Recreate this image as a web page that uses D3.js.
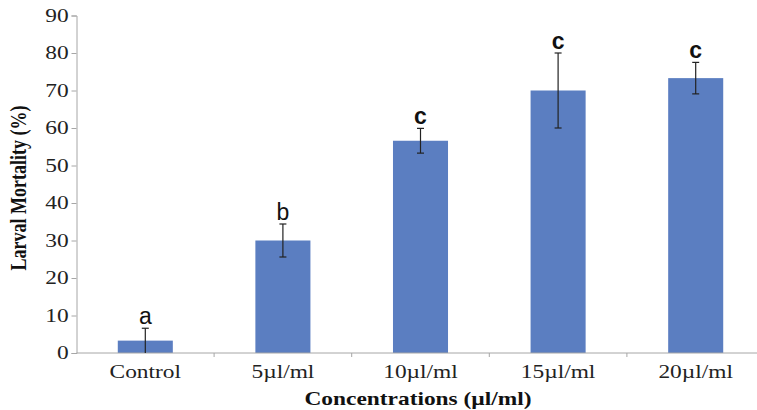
<!DOCTYPE html>
<html>
<head>
<meta charset="utf-8">
<script src="https://cdn.jsdelivr.net/npm/d3@7"></script>
<style>
  body { margin: 0; background: #fff; }
  svg { display: block; }
</style>
</head>
<body>
<svg id="chart" width="757" height="410"></svg>
<script>
// Chart data
const categories = ['Control', '5\u00b5l/ml', '10\u00b5l/ml', '15\u00b5l/ml', '20\u00b5l/ml'];
const mortality = [3.3, 30, 56.6, 70, 73.3];
const errors = [3.3, 4.4, 3.3, 10, 4.2];
const letters = ['a', 'b', 'c', 'c', 'c'];
const yTicks = [0, 10, 20, 30, 40, 50, 60, 70, 80, 90];

const data = categories.map((c, i) => ({
    cat: c, val: mortality[i], err: errors[i], letter: letters[i]
}));

const svg = d3.select('#chart');
const stretch = 1.3; // source figure is stretched horizontally
const serif = '"Liberation Serif", "Times New Roman", serif';

// Scales
const x = d3.scaleBand()
    .domain(categories)
    .range([76.5, 764.5])
    .paddingInner(0.6)
    .paddingOuter(0.3);

const y = d3.scaleLinear()
    .domain([0, 90])
    .range([353, 15.5]);

// Y axis
const yAxis = svg.append('g')
    .attr('transform', `translate(${x.range()[0]},0)`)
    .call(d3.axisLeft(y).tickValues(yTicks).tickSize(5).tickPadding(3));
yAxis.select('.domain').attr('stroke', '#a6a6a6');
yAxis.selectAll('.tick line').attr('stroke', '#a6a6a6');
yAxis.selectAll('.tick text')
    .attr('font-family', serif)
    .attr('font-size', 18)
    .attr('fill', '#222')
    .attr('x', -6)
    .attr('transform', `scale(${stretch},1)`);

// Bars
svg.append('g')
    .selectAll('rect')
    .data(data)
    .join('rect')
    .attr('x', d => x(d.cat))
    .attr('y', d => y(d.val))
    .attr('width', x.bandwidth())
    .attr('height', d => y(0) - y(d.val))
    .attr('fill', '#5b7ec1');

// X axis (drawn after bars so the line sits on top)
const bounds = categories.slice(1).map(c => x(c) - x.step() * x.paddingInner() / 2);
const xAxis = svg.append('g')
    .attr('transform', `translate(0,${y(0)})`);
xAxis.append('line')
    .attr('x1', x.range()[0]).attr('x2', x.range()[1])
    .attr('stroke', '#a6a6a6');
xAxis.selectAll('.sep')
    .data(bounds)
    .join('line')
    .attr('x1', d => d).attr('x2', d => d)
    .attr('y1', 0).attr('y2', 4)
    .attr('stroke', '#a6a6a6');
xAxis.selectAll('.lbl')
    .data(categories)
    .join('text')
    .attr('transform', d => `translate(${x(d) + x.bandwidth() / 2},25) scale(${stretch},1)`)
    .attr('text-anchor', 'middle')
    .attr('font-family', serif)
    .attr('font-size', 18)
    .attr('fill', '#222')
    .text(d => d);

// Error bars
const eb = svg.append('g').attr('stroke', '#222').attr('stroke-width', 1.2);
const cx = d => x(d.cat) + x.bandwidth() / 2;
const lo = d => Math.max(0, d.val - d.err);
eb.selectAll('.v').data(data).join('line')
    .attr('x1', cx).attr('x2', cx)
    .attr('y1', d => y(d.val + d.err)).attr('y2', d => y(lo(d)));
eb.selectAll('.t').data(data).join('line')
    .attr('x1', d => cx(d) - 3.5).attr('x2', d => cx(d) + 3.5)
    .attr('y1', d => y(d.val + d.err)).attr('y2', d => y(d.val + d.err));
eb.selectAll('.b').data(data.filter(d => d.val - d.err > 0)).join('line')
    .attr('x1', d => cx(d) - 3.5).attr('x2', d => cx(d) + 3.5)
    .attr('y1', d => y(lo(d))).attr('y2', d => y(lo(d)));

// Significance letters
svg.append('g')
    .selectAll('text')
    .data(data)
    .join('text')
    .attr('x', cx)
    .attr('y', d => y(d.val + d.err) - 4)
    .attr('text-anchor', 'middle')
    .attr('font-family', '"Liberation Sans", Arial, sans-serif')
    .attr('font-size', 23)
    .attr('font-weight', d => d.letter === 'c' ? 'bold' : 'normal')
    .attr('fill', '#111')
    .text(d => d.letter);

// Axis titles
svg.append('text')
    .attr('transform', `translate(26,188) scale(${stretch},1) rotate(-90)`)
    .attr('text-anchor', 'middle')
    .attr('font-family', serif)
    .attr('font-weight', 'bold')
    .attr('font-size', 18)
    .attr('fill', '#111')
    .text('Larval Mortality (%)');

svg.append('text')
    .attr('transform', `translate(418,405) scale(${stretch},1)`)
    .attr('text-anchor', 'middle')
    .attr('font-family', serif)
    .attr('font-weight', 'bold')
    .attr('font-size', 18)
    .attr('fill', '#111')
    .text('Concentrations (\u00b5l/ml)');
</script>
</body>
</html>
